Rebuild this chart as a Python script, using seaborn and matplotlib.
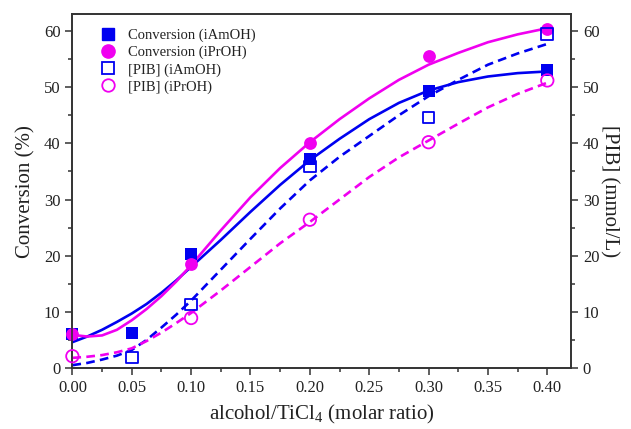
import numpy as np
import pandas as pd
import matplotlib
matplotlib.use("Agg")
import matplotlib.pyplot as plt
from matplotlib.lines import Line2D
from matplotlib.ticker import MultipleLocator, FormatStrFormatter
import seaborn as sns

# ---- data ----
conv_iamoh_x = [0.0, 0.05, 0.10, 0.20, 0.30, 0.40]
conv_iamoh_y = [6.0, 6.2, 20.3, 37.2, 49.3, 53.0]
conv_iproh_x = [0.0, 0.10, 0.20, 0.30, 0.40]
conv_iproh_y = [6.1, 18.6, 40.0, 55.5, 60.3]
pib_iamoh_x = [0.05, 0.10, 0.20, 0.30, 0.40]
pib_iamoh_y = [1.9, 11.3, 35.9, 44.6, 59.5]
pib_iproh_x = [0.0, 0.10, 0.20, 0.30, 0.40]
pib_iproh_y = [2.1, 8.9, 26.4, 40.2, 51.2]

# fitted curves as drawn in the reference
fit_x = [0.0, 0.0125, 0.025, 0.0375, 0.05, 0.0625, 0.075, 0.0875, 0.10,
         0.125, 0.15, 0.175, 0.20, 0.225, 0.25, 0.275, 0.30, 0.325,
         0.35, 0.375, 0.40]
fit_conv_iamoh = [4.6, 5.6, 6.8, 8.2, 9.7, 11.4, 13.4, 15.6, 18.0,
                  22.8, 27.8, 32.6, 37.0, 40.8, 44.3, 47.2, 49.4, 50.9,
                  51.9, 52.5, 52.8]
fit_conv_iproh = [5.9, 5.6, 5.8, 6.8, 8.5, 10.5, 12.8, 15.4, 18.3,
                  24.5, 30.4, 35.6, 40.2, 44.3, 48.0, 51.3, 54.0, 56.1,
                  58.0, 59.4, 60.5]
fit_pib_iamoh = [0.5, 0.9, 1.5, 2.2, 3.2, 5.0, 7.2, 9.5, 12.0,
                 17.5, 23.0, 28.4, 33.4, 37.6, 41.3, 45.0, 48.4, 51.3,
                 54.0, 56.0, 57.7]
fit_pib_iproh = [1.8, 2.0, 2.3, 2.8, 3.5, 4.8, 6.3, 8.0, 9.8,
                 13.8, 18.0, 22.2, 26.0, 30.0, 34.0, 37.5, 40.5, 43.5,
                 46.4, 48.8, 50.8]

x_ticks = [0.00, 0.05, 0.10, 0.15, 0.20, 0.25, 0.30, 0.35, 0.40]
y_ticks = [0, 10, 20, 30, 40, 50, 60]

BLUE = "#0000f0"
MAG = "#f000f0"

sns.set_style("ticks")
plt.rcParams["font.family"] = ["Liberation Serif", "DejaVu Serif"]
plt.rcParams["mathtext.fontset"] = "custom"
plt.rcParams["mathtext.rm"] = "Liberation Serif"

fig = plt.figure(figsize=(6.31, 4.29), dpi=100)
ax = fig.add_axes([0.1147, 0.1422, 0.7903, 0.8248])
ax2 = ax.twinx()

lw = 1.9
sns.lineplot(x=fit_x, y=fit_conv_iamoh, ax=ax, color=BLUE, lw=lw, zorder=2)
sns.lineplot(x=fit_x, y=fit_conv_iproh, ax=ax, color=MAG, lw=lw, zorder=2)
sns.lineplot(x=fit_x, y=fit_pib_iamoh, ax=ax2, color=BLUE, lw=lw,
             zorder=2).lines[-1].set_dashes([3.3, 2.0])
sns.lineplot(x=fit_x, y=fit_pib_iproh, ax=ax2, color=MAG, lw=lw,
             zorder=2).lines[-1].set_dashes([3.3, 2.0])

sns.scatterplot(x=conv_iamoh_x, y=conv_iamoh_y, ax=ax, marker="s", s=80,
                color=BLUE, edgecolor=BLUE, linewidth=0, zorder=3, clip_on=False)
sns.scatterplot(x=conv_iproh_x, y=conv_iproh_y, ax=ax, marker="o", s=85,
                color=MAG, edgecolor=MAG, linewidth=0, zorder=3, clip_on=False)
sns.scatterplot(x=pib_iamoh_x, y=pib_iamoh_y, ax=ax2, marker="s", s=70,
                facecolor="none", edgecolor=BLUE, linewidth=1.3, zorder=4, clip_on=False)
sns.scatterplot(x=pib_iproh_x, y=pib_iproh_y, ax=ax2, marker="o", s=80,
                facecolor="none", edgecolor=MAG, linewidth=1.3, zorder=4, clip_on=False)

for a in (ax, ax2):
    a.set_xlim(0, 0.42)
    a.set_ylim(0, 63)
    a.set_yticks(y_ticks)
    a.yaxis.set_minor_locator(MultipleLocator(5))
    for s in a.spines.values():
        s.set_visible(True)
        s.set_linewidth(1.2)
        s.set_color("#333333")

ax.set_xticks(x_ticks)
ax.xaxis.set_minor_locator(MultipleLocator(0.025))
ax.xaxis.set_major_formatter(FormatStrFormatter("%.2f"))
ax.tick_params(axis="both", which="major", direction="out", length=5, width=1.1,
               labelsize=12, colors="#333333", labelcolor="#222222")
ax.tick_params(axis="both", which="minor", direction="out", length=3, width=1.1,
               colors="#333333")
ax.tick_params(axis="x", top=False, which="both")
ax2.tick_params(axis="y", which="major", direction="out", length=5, width=1.1,
                labelsize=12, colors="#333333", labelcolor="#222222")
ax2.tick_params(axis="y", which="minor", direction="out", length=3, width=1.1,
                colors="#333333")

ax.set_xlabel("alcohol/TiCl$_4$ (molar ratio)", fontsize=15, color="#222222", labelpad=5)
ax.set_ylabel("Conversion (%)", fontsize=15, color="#222222", labelpad=6)
ax2.set_ylabel("[PIB] (mmol/L)", fontsize=15, color="#222222", rotation=270, labelpad=14)

handles = [
    Line2D([], [], ls="none", marker="s", ms=8.5, color=BLUE, mec=BLUE),
    Line2D([], [], ls="none", marker="o", ms=9.5, color=MAG, mec=MAG),
    Line2D([], [], ls="none", marker="s", ms=8, mfc="none", mec=BLUE, mew=1.3),
    Line2D([], [], ls="none", marker="o", ms=9, mfc="none", mec=MAG, mew=1.3),
]
labels = ["Conversion (iAmOH)", "Conversion (iPrOH)", "[PIB] (iAmOH)", "[PIB] (iPrOH)"]
ax2.legend(handles, labels, loc="upper left", bbox_to_anchor=(0.045, 0.975),
           frameon=False, fontsize=10.5, handletextpad=0.9, labelspacing=0.25,
           borderaxespad=0, handlelength=1.0, labelcolor="#222222")

fig.savefig("out.png", dpi=100)
